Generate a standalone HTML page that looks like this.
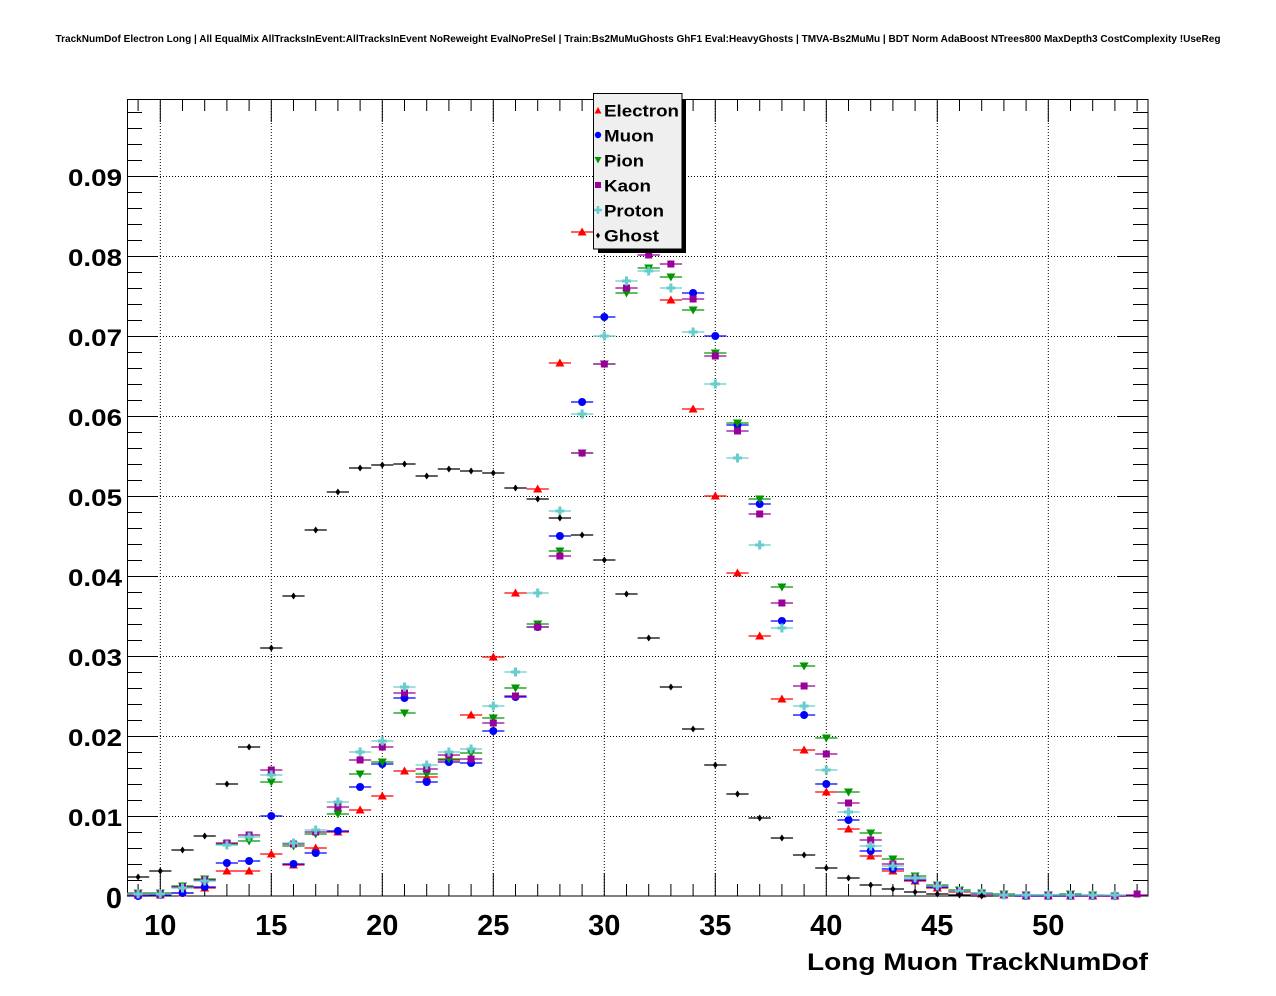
<!DOCTYPE html>
<html>
<head>
<meta charset="utf-8">
<style>
html,body{margin:0;padding:0;background:#fff;}
svg{display:block;}
text{font-family:"Liberation Sans",Arial,sans-serif;font-weight:bold;fill:#000;}
</style>
</head>
<body>
<svg width="1276" height="996" viewBox="0 0 1276 996" xmlns="http://www.w3.org/2000/svg">
<defs>
<marker id="mE" markerUnits="userSpaceOnUse" markerWidth="20" markerHeight="20" refX="10" refY="10" orient="0"><path d="M10,5.5L14.5,13.5L5.5,13.5Z" fill="#ff0000"/></marker>
<marker id="mM" markerUnits="userSpaceOnUse" markerWidth="20" markerHeight="20" refX="10" refY="10" orient="0"><circle cx="10" cy="10" r="4" fill="#0000ff"/></marker>
<marker id="mP" markerUnits="userSpaceOnUse" markerWidth="20" markerHeight="20" refX="10" refY="10" orient="0"><path d="M10,14.5L14.5,6.5L5.5,6.5Z" fill="#009600"/></marker>
<marker id="mK" markerUnits="userSpaceOnUse" markerWidth="20" markerHeight="20" refX="10" refY="10" orient="0"><rect x="6.5" y="6.5" width="7" height="7" fill="#990099"/></marker>
<marker id="mR" markerUnits="userSpaceOnUse" markerWidth="20" markerHeight="20" refX="10" refY="10" orient="0"><path d="M8.5,5.5h3v3h3v3h-3v3h-3v-3h-3v-3h3z" fill="#66cccc"/></marker>
<marker id="mG" markerUnits="userSpaceOnUse" markerWidth="20" markerHeight="20" refX="10" refY="10" orient="0"><path d="M10,6.5L12.5,10L10,13.5L7.5,10Z" fill="#000000"/></marker>
</defs>

<rect x="0" y="0" width="1276" height="996" fill="#fff"/>

<!-- title -->
<text x="638" y="42" text-anchor="middle" font-size="10" textLength="1165" lengthAdjust="spacingAndGlyphs">TrackNumDof Electron Long | All EqualMix AllTracksInEvent:AllTracksInEvent NoReweight EvalNoPreSel | Train:Bs2MuMuGhosts GhF1 Eval:HeavyGhosts | TMVA-Bs2MuMu | BDT Norm AdaBoost NTrees800 MaxDepth3 CostComplexity !UseReg</text>

<!-- grid -->
<g stroke="#000" stroke-width="1" stroke-dasharray="1 2" fill="none">
<path d="M160.3,99V896M271.3,99V896M382.3,99V896M493.3,99V896M604.3,99V896M715.3,99V896M826.3,99V896M937.3,99V896M1048.3,99V896"/>
<path d="M127,816.5H1148M127,736.5H1148M127,656.5H1148M127,576.5H1148M127,496.5H1148M127,416.5H1148M127,336.5H1148M127,256.5H1148M127,176.5H1148"/>
</g>

<!-- frame -->
<rect x="127.5" y="99.5" width="1020.5" height="796.5" fill="none" stroke="#000" stroke-width="1"/>

<!-- ticks -->
<g stroke="#000" stroke-width="1" fill="none">
<path d="M138.1,896V884M160.3,896V873M182.5,896V884M204.7,896V884M226.9,896V884M249.1,896V884M271.3,896V873M293.5,896V884M315.7,896V884M337.9,896V884M360.1,896V884M382.3,896V873M404.5,896V884M426.7,896V884M448.9,896V884M471.1,896V884M493.3,896V873M515.5,896V884M537.7,896V884M559.9,896V884M582.1,896V884M604.3,896V873M626.5,896V884M648.7,896V884M670.9,896V884M693.1,896V884M715.3,896V873M737.5,896V884M759.7,896V884M781.9,896V884M804.1,896V884M826.3,896V873M848.5,896V884M870.7,896V884M892.9,896V884M915.1,896V884M937.3,896V873M959.5,896V884M981.7,896V884M1003.9,896V884M1026.1,896V884M1048.3,896V873M1070.5,896V884M1092.7,896V884M1114.9,896V884M1137.1,896V884"/>
<path d="M138.1,99V111M160.3,99V122M182.5,99V111M204.7,99V111M226.9,99V111M249.1,99V111M271.3,99V122M293.5,99V111M315.7,99V111M337.9,99V111M360.1,99V111M382.3,99V122M404.5,99V111M426.7,99V111M448.9,99V111M471.1,99V111M493.3,99V122M515.5,99V111M537.7,99V111M559.9,99V111M582.1,99V111M604.3,99V122M626.5,99V111M648.7,99V111M670.9,99V111M693.1,99V111M715.3,99V122M737.5,99V111M759.7,99V111M781.9,99V111M804.1,99V111M826.3,99V122M848.5,99V111M870.7,99V111M892.9,99V111M915.1,99V111M937.3,99V122M959.5,99V111M981.7,99V111M1003.9,99V111M1026.1,99V111M1048.3,99V122M1070.5,99V111M1092.7,99V111M1114.9,99V111M1137.1,99V111"/>
<path d="M127,880.5h15M127,864.5h15M127,848.5h15M127,832.5h15M127,816.5h31M127,800.5h15M127,784.5h15M127,768.5h15M127,752.5h15M127,736.5h31M127,720.5h15M127,704.5h15M127,688.5h15M127,672.5h15M127,656.5h31M127,640.5h15M127,624.5h15M127,608.5h15M127,592.5h15M127,576.5h31M127,560.5h15M127,544.5h15M127,528.5h15M127,512.5h15M127,496.5h31M127,480.5h15M127,464.5h15M127,448.5h15M127,432.5h15M127,416.5h31M127,400.5h15M127,384.5h15M127,368.5h15M127,352.5h15M127,336.5h31M127,320.5h15M127,304.5h15M127,288.5h15M127,272.5h15M127,256.5h31M127,240.5h15M127,224.5h15M127,208.5h15M127,192.5h15M127,176.5h31M127,160.5h15M127,144.5h15M127,128.5h15M127,112.5h15"/>
<path d="M1148,880.5h-15M1148,864.5h-15M1148,848.5h-15M1148,832.5h-15M1148,816.5h-31M1148,800.5h-15M1148,784.5h-15M1148,768.5h-15M1148,752.5h-15M1148,736.5h-31M1148,720.5h-15M1148,704.5h-15M1148,688.5h-15M1148,672.5h-15M1148,656.5h-31M1148,640.5h-15M1148,624.5h-15M1148,608.5h-15M1148,592.5h-15M1148,576.5h-31M1148,560.5h-15M1148,544.5h-15M1148,528.5h-15M1148,512.5h-15M1148,496.5h-31M1148,480.5h-15M1148,464.5h-15M1148,448.5h-15M1148,432.5h-15M1148,416.5h-31M1148,400.5h-15M1148,384.5h-15M1148,368.5h-15M1148,352.5h-15M1148,336.5h-31M1148,320.5h-15M1148,304.5h-15M1148,288.5h-15M1148,272.5h-15M1148,256.5h-31M1148,240.5h-15M1148,224.5h-15M1148,208.5h-15M1148,192.5h-15M1148,176.5h-31M1148,160.5h-15M1148,144.5h-15M1148,128.5h-15M1148,112.5h-15"/>
</g>

<!-- y labels -->
<g font-size="24" text-anchor="end">
<text x="122" y="826" textLength="54" lengthAdjust="spacingAndGlyphs">0.01</text>
<text x="122" y="746" textLength="54" lengthAdjust="spacingAndGlyphs">0.02</text>
<text x="122" y="666" textLength="54" lengthAdjust="spacingAndGlyphs">0.03</text>
<text x="122" y="586" textLength="54" lengthAdjust="spacingAndGlyphs">0.04</text>
<text x="122" y="506" textLength="54" lengthAdjust="spacingAndGlyphs">0.05</text>
<text x="122" y="426" textLength="54" lengthAdjust="spacingAndGlyphs">0.06</text>
<text x="122" y="346" textLength="54" lengthAdjust="spacingAndGlyphs">0.07</text>
<text x="122" y="266" textLength="54" lengthAdjust="spacingAndGlyphs">0.08</text>
<text x="122" y="186" textLength="54" lengthAdjust="spacingAndGlyphs">0.09</text>
</g>
<text x="122" y="908" font-size="29" text-anchor="end">0</text>

<!-- x labels -->
<g font-size="29" text-anchor="middle">
<text x="160.3" y="935">10</text>
<text x="271.3" y="935">15</text>
<text x="382.3" y="935">20</text>
<text x="493.3" y="935">25</text>
<text x="604.3" y="935">30</text>
<text x="715.3" y="935">35</text>
<text x="826.3" y="935">40</text>
<text x="937.3" y="935">45</text>
<text x="1048.3" y="935">50</text>
</g>
<text x="807" y="970" font-size="24.5" textLength="341" lengthAdjust="spacingAndGlyphs">Long Muon TrackNumDof</text>

<!-- Electron -->
<path stroke="#ff0000" stroke-width="1.2" fill="none" d="M127,895h22.2M149.2,895h22.2M171.4,893h22.2M193.6,888h22.2M215.8,871h22.2M238,871h22.2M260.2,854h22.2M282.4,865h22.2M304.6,848h22.2M326.8,832h22.2M349,810h22.2M371.2,796h22.2M393.4,771h22.2M415.6,777h22.2M437.8,760h22.2M460,715h22.2M482.2,657h22.2M504.4,593h22.2M526.6,489h22.2M548.8,363h22.2M571,232h22.2M593.2,190h22.2M615.4,205h22.2M637.6,244h22.2M659.8,300h22.2M682,409h22.2M704.2,496h22.2M726.4,573h22.2M748.6,636h22.2M770.8,699h22.2M793,750h22.2M815.2,792h22.2M837.4,829h22.2M859.6,856h22.2M881.8,871h22.2M904,881h22.2M926.2,888h22.2M948.4,892h22.2M970.6,894h22.2M992.8,895h22.2M1015,896h22.2M1037.2,896h22.2M1059.4,896h22.2M1081.6,896h22.2M1103.8,896h22.2"/>
<polyline fill="none" stroke="none" marker-start="url(#mE)" marker-mid="url(#mE)" marker-end="url(#mE)" points="138.1,895 160.3,895 182.5,893 204.7,888 226.9,871 249.1,871 271.3,854 293.5,865 315.7,848 337.9,832 360.1,810 382.3,796 404.5,771 426.7,777 448.9,760 471.1,715 493.3,657 515.5,593 537.7,489 559.9,363 582.1,232 604.3,190 626.5,205 648.7,244 670.9,300 693.1,409 715.3,496 737.5,573 759.7,636 781.9,699 804.1,750 826.3,792 848.5,829 870.7,856 892.9,871 915.1,881 937.3,888 959.5,892 981.7,894 1003.9,895 1026.1,896 1048.3,896 1070.5,896 1092.7,896 1114.9,896"/>

<!-- Muon -->
<path stroke="#0000ff" stroke-width="1.2" fill="none" d="M127,896h22.2M149.2,895h22.2M171.4,893h22.2M193.6,887h22.2M215.8,863h22.2M238,861h22.2M260.2,816h22.2M282.4,864h22.2M304.6,853h22.2M326.8,831h22.2M349,787h22.2M371.2,764h22.2M393.4,698h22.2M415.6,782h22.2M437.8,762h22.2M460,763h22.2M482.2,731h22.2M504.4,697h22.2M526.6,627h22.2M548.8,536h22.2M571,402h22.2M593.2,317h22.2M615.4,235h22.2M637.6,225h22.2M659.8,235h22.2M682,293h22.2M704.2,336h22.2M726.4,425h22.2M748.6,504h22.2M770.8,621h22.2M793,715h22.2M815.2,784h22.2M837.4,820h22.2M859.6,851h22.2M881.8,869h22.2M904,880h22.2M926.2,887h22.2M948.4,891h22.2M970.6,893h22.2M992.8,895h22.2M1015,896h22.2M1037.2,896h22.2M1059.4,896h22.2M1081.6,896h22.2M1103.8,896h22.2"/>
<polyline fill="none" stroke="none" marker-start="url(#mM)" marker-mid="url(#mM)" marker-end="url(#mM)" points="138.1,896 160.3,895 182.5,893 204.7,887 226.9,863 249.1,861 271.3,816 293.5,864 315.7,853 337.9,831 360.1,787 382.3,764 404.5,698 426.7,782 448.9,762 471.1,763 493.3,731 515.5,697 537.7,627 559.9,536 582.1,402 604.3,317 626.5,235 648.7,225 670.9,235 693.1,293 715.3,336 737.5,425 759.7,504 781.9,621 804.1,715 826.3,784 848.5,820 870.7,851 892.9,869 915.1,880 937.3,887 959.5,891 981.7,893 1003.9,895 1026.1,896 1048.3,896 1070.5,896 1092.7,896 1114.9,896"/>

<!-- Pion -->
<path stroke="#009600" stroke-width="1.2" fill="none" d="M127,893h22.2M149.2,893h22.2M171.4,886h22.2M193.6,879h22.2M215.8,844h22.2M238,841h22.2M260.2,782h22.2M282.4,846h22.2M304.6,834h22.2M326.8,814h22.2M349,774h22.2M371.2,762h22.2M393.4,713h22.2M415.6,774h22.2M437.8,759h22.2M460,753h22.2M482.2,718h22.2M504.4,688h22.2M526.6,624h22.2M548.8,551h22.2M571,453h22.2M593.2,364h22.2M615.4,293h22.2M637.6,268h22.2M659.8,277h22.2M682,310h22.2M704.2,353h22.2M726.4,423h22.2M748.6,499h22.2M770.8,587h22.2M793,666h22.2M815.2,738h22.2M837.4,792h22.2M859.6,833h22.2M881.8,859h22.2M904,876h22.2M926.2,885h22.2M948.4,890h22.2M970.6,893h22.2M992.8,894h22.2M1015,895h22.2M1037.2,895h22.2M1059.4,894h22.2M1081.6,895h22.2M1103.8,896h22.2"/>
<polyline fill="none" stroke="none" marker-start="url(#mP)" marker-mid="url(#mP)" marker-end="url(#mP)" points="138.1,893 160.3,893 182.5,886 204.7,879 226.9,844 249.1,841 271.3,782 293.5,846 315.7,834 337.9,814 360.1,774 382.3,762 404.5,713 426.7,774 448.9,759 471.1,753 493.3,718 515.5,688 537.7,624 559.9,551 582.1,453 604.3,364 626.5,293 648.7,268 670.9,277 693.1,310 715.3,353 737.5,423 759.7,499 781.9,587 804.1,666 826.3,738 848.5,792 870.7,833 892.9,859 915.1,876 937.3,885 959.5,890 981.7,893 1003.9,894 1026.1,895 1048.3,895 1070.5,894 1092.7,895 1114.9,896"/>

<!-- Kaon -->
<path stroke="#990099" stroke-width="1.2" fill="none" d="M127,894h22.2M149.2,894h22.2M171.4,887h22.2M193.6,880h22.2M215.8,843h22.2M238,835h22.2M260.2,770h22.2M282.4,844h22.2M304.6,832h22.2M326.8,807h22.2M349,760h22.2M371.2,747h22.2M393.4,693h22.2M415.6,769h22.2M437.8,755h22.2M460,759h22.2M482.2,723h22.2M504.4,696h22.2M526.6,627h22.2M548.8,556h22.2M571,453h22.2M593.2,364h22.2M615.4,288h22.2M637.6,255h22.2M659.8,264h22.2M682,299h22.2M704.2,356h22.2M726.4,431h22.2M748.6,514h22.2M770.8,603h22.2M793,686h22.2M815.2,754h22.2M837.4,803h22.2M859.6,840h22.2M881.8,864h22.2M904,878h22.2M926.2,886h22.2M948.4,891h22.2M970.6,894h22.2M992.8,895h22.2M1015,895h22.2M1037.2,895h22.2M1059.4,895h22.2M1081.6,896h22.2M1103.8,896h22.2M1126,895h22.2"/>
<polyline fill="none" stroke="none" marker-start="url(#mK)" marker-mid="url(#mK)" marker-end="url(#mK)" points="138.1,894 160.3,894 182.5,887 204.7,880 226.9,843 249.1,835 271.3,770 293.5,844 315.7,832 337.9,807 360.1,760 382.3,747 404.5,693 426.7,769 448.9,755 471.1,759 493.3,723 515.5,696 537.7,627 559.9,556 582.1,453 604.3,364 626.5,288 648.7,255 670.9,264 693.1,299 715.3,356 737.5,431 759.7,514 781.9,603 804.1,686 826.3,754 848.5,803 870.7,840 892.9,864 915.1,878 937.3,886 959.5,891 981.7,894 1003.9,895 1026.1,895 1048.3,895 1070.5,895 1092.7,896 1114.9,896 1137.1,894"/>

<!-- Proton -->
<path stroke="#66cccc" stroke-width="1.2" fill="none" d="M127,894h22.2M149.2,894h22.2M171.4,888h22.2M193.6,881h22.2M215.8,845h22.2M238,837h22.2M260.2,775h22.2M282.4,843h22.2M304.6,830h22.2M326.8,802h22.2M349,752h22.2M371.2,741h22.2M393.4,687h22.2M415.6,765h22.2M437.8,752h22.2M460,749h22.2M482.2,706h22.2M504.4,672h22.2M526.6,593h22.2M548.8,511h22.2M571,414h22.2M593.2,336h22.2M615.4,281h22.2M637.6,271h22.2M659.8,288h22.2M682,332h22.2M704.2,384h22.2M726.4,458h22.2M748.6,545h22.2M770.8,628h22.2M793,706h22.2M815.2,770h22.2M837.4,812h22.2M859.6,846h22.2M881.8,866h22.2M904,878h22.2M926.2,886h22.2M948.4,891h22.2M970.6,893h22.2M992.8,895h22.2M1015,895h22.2M1037.2,895h22.2M1059.4,895h22.2M1081.6,895h22.2M1103.8,895h22.2"/>
<polyline fill="none" stroke="none" marker-start="url(#mR)" marker-mid="url(#mR)" marker-end="url(#mR)" points="138.1,894 160.3,894 182.5,888 204.7,881 226.9,845 249.1,837 271.3,775 293.5,843 315.7,830 337.9,802 360.1,752 382.3,741 404.5,687 426.7,765 448.9,752 471.1,749 493.3,706 515.5,672 537.7,593 559.9,511 582.1,414 604.3,336 626.5,281 648.7,271 670.9,288 693.1,332 715.3,384 737.5,458 759.7,545 781.9,628 804.1,706 826.3,770 848.5,812 870.7,846 892.9,866 915.1,878 937.3,886 959.5,891 981.7,893 1003.9,895 1026.1,895 1048.3,895 1070.5,895 1092.7,895 1114.9,895"/>

<!-- Ghost -->
<path stroke="#000000" stroke-width="1.2" fill="none" d="M127,877h22.2M149.2,871h22.2M171.4,850h22.2M193.6,836h22.2M215.8,784h22.2M238,747h22.2M260.2,648h22.2M282.4,596h22.2M304.6,530h22.2M326.8,492h22.2M349,468h22.2M371.2,465h22.2M393.4,464h22.2M415.6,476h22.2M437.8,469h22.2M460,471h22.2M482.2,473h22.2M504.4,488h22.2M526.6,499h22.2M548.8,518h22.2M571,535h22.2M593.2,560h22.2M615.4,594h22.2M637.6,638h22.2M659.8,687h22.2M682,729h22.2M704.2,765h22.2M726.4,794h22.2M748.6,818h22.2M770.8,838h22.2M793,855h22.2M815.2,868h22.2M837.4,878h22.2M859.6,885h22.2M881.8,889h22.2M904,892h22.2M926.2,894h22.2M948.4,895h22.2M970.6,896h22.2"/>
<polyline fill="none" stroke="none" marker-start="url(#mG)" marker-mid="url(#mG)" marker-end="url(#mG)" points="138.1,877 160.3,871 182.5,850 204.7,836 226.9,784 249.1,747 271.3,648 293.5,596 315.7,530 337.9,492 360.1,468 382.3,465 404.5,464 426.7,476 448.9,469 471.1,471 493.3,473 515.5,488 537.7,499 559.9,518 582.1,535 604.3,560 626.5,594 648.7,638 670.9,687 693.1,729 715.3,765 737.5,794 759.7,818 781.9,838 804.1,855 826.3,868 848.5,878 870.7,885 892.9,889 915.1,892 937.3,894 959.5,895 981.7,896"/>

<!-- legend -->
<rect x="598" y="100" width="88" height="153" fill="#000"/>
<rect x="593.5" y="93.5" width="88.5" height="155.5" fill="#efefef" stroke="#000" stroke-width="1"/>
<path d="M598,107L601.5,113.5L594.5,113.5Z" fill="#ff0000"/>
<circle cx="598" cy="135" r="3.2" fill="#0000ff"/>
<path d="M598,163.5L601.5,157L594.5,157Z" fill="#009600"/>
<rect x="595" y="182" width="6" height="6" fill="#990099"/>
<path d="M596.8,206h2.4v2.8h2.8v2.4h-2.8v2.8h-2.4v-2.8h-2.8v-2.4h2.8z" fill="#66cccc"/>
<path d="M598,232.5L600,235.5L598,238.5L596,235.5Z" fill="#000"/>
<g font-size="16.5">
<text x="604" y="116.5" textLength="75" lengthAdjust="spacingAndGlyphs">Electron</text>
<text x="604" y="141.5" textLength="50" lengthAdjust="spacingAndGlyphs">Muon</text>
<text x="604" y="166.5" textLength="40" lengthAdjust="spacingAndGlyphs">Pion</text>
<text x="604" y="191.5" textLength="47" lengthAdjust="spacingAndGlyphs">Kaon</text>
<text x="604" y="216.5" textLength="60" lengthAdjust="spacingAndGlyphs">Proton</text>
<text x="604" y="241.5" textLength="55" lengthAdjust="spacingAndGlyphs">Ghost</text>
</g>
</svg>
</body>
</html>
